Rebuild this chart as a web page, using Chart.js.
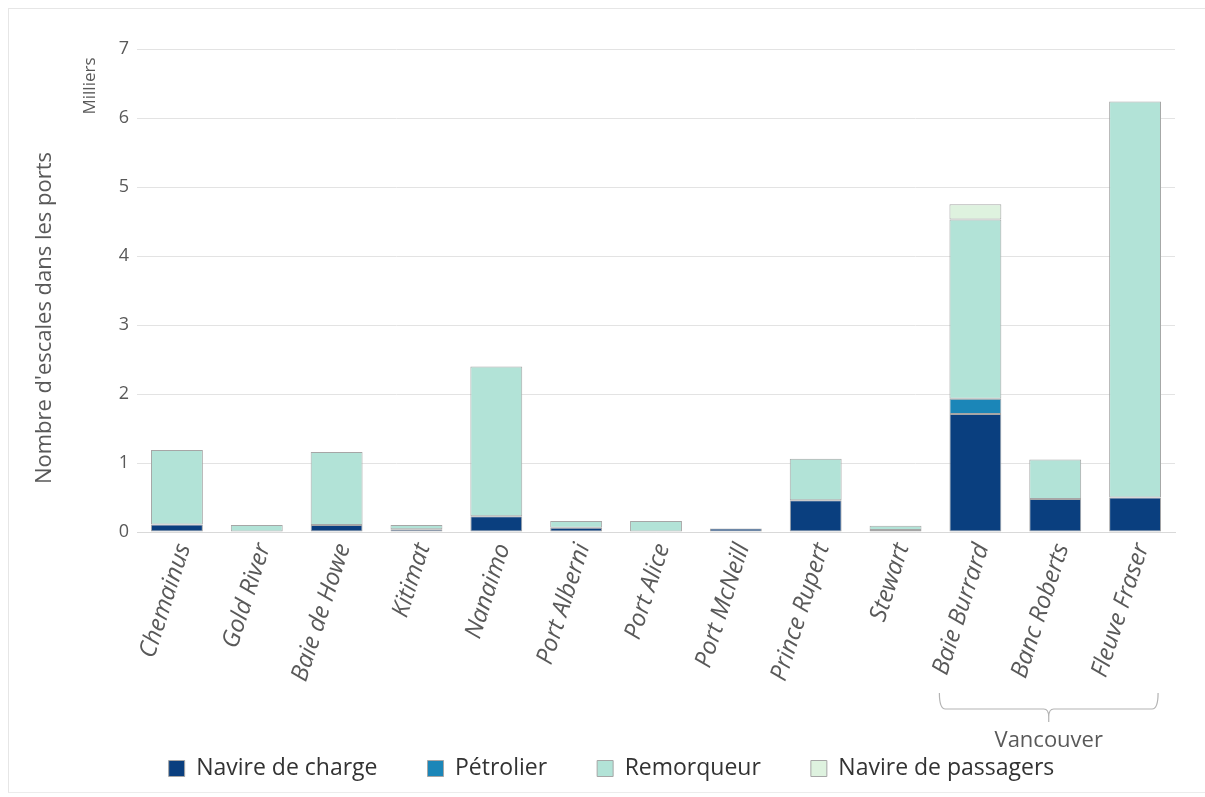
<!DOCTYPE html>
<html lang="fr">
<head>
<meta charset="utf-8">
<title>Escales dans les ports</title>
<script src="https://cdn.jsdelivr.net/npm/chart.js@4/dist/chart.umd.min.js"></script>
<style>
	html, body { margin: 0; padding: 0; background: #fff; }
	#wrap {
		position: relative;
		width: 1205px;
		height: 797px;
		box-sizing: border-box;
	}
	#frame {
		position: absolute;
		left: 8px; top: 8px; right: 0; bottom: 4px;
		border-left: 1px solid #e6e6e6;
		border-top: 1px solid #e6e6e6;
		border-bottom: 1px solid #ececec;
		pointer-events: none;
	}
	canvas { display: block; }
</style>
</head>
<body>
<div id="wrap">
	<canvas id="chart" width="1205" height="797"></canvas>
	<div id="frame"></div>
</div>
<script>
	'use strict';

	// Ports, en milliers d'escales
	var ports = ['Chemainus', 'Gold River', 'Baie de Howe', 'Kitimat', 'Nanaimo', 'Port Alberni',
		'Port Alice', 'Port McNeill', 'Prince Rupert', 'Stewart', 'Baie Burrard', 'Banc Roberts', 'Fleuve Fraser'];

	var navireCharge = [0.11, 0, 0.10, 0.04, 0.23, 0.06, 0, 0.05, 0.46, 0.03, 1.71, 0.48, 0.50];
	var petrolier = [0, 0, 0, 0, 0, 0, 0, 0, 0, 0, 0.22, 0, 0];
	var remorqueur = [1.08, 0.10, 1.06, 0.06, 2.17, 0.10, 0.16, 0, 0.60, 0.06, 2.60, 0.57, 5.74];
	var navirePassagers = [0, 0, 0, 0, 0, 0, 0, 0, 0, 0, 0.22, 0, 0];

	var yTicks = [0, 1, 2, 3, 4, 5, 6, 7];

	// Sous-groupe de ports regroupés sous une accolade
	var groupLabel = 'Vancouver';
	var groupFirst = 10;
	var groupLast = 12;

	var fontFamily = '"Open Sans", Lato, sans-serif';
	var textGrey = '#595959';
	var edgeGrey = '#a6a6a6';

	function makeSet(label, values, color) {
		return {
			label: label,
			data: values,
			backgroundColor: color,
			borderColor: edgeGrey,
			borderWidth: 1,
			borderSkipped: false,
			barPercentage: 0.65,
			categoryPercentage: 1
		};
	}

	// Titres de l'axe vertical, dessinés à la main pour les placer librement
	var axisTitles = {
		id: 'axisTitles',
		afterDraw: function (chart) {
			var ctx = chart.ctx;

			ctx.save();
			ctx.fillStyle = textGrey;
			ctx.textAlign = 'center';
			ctx.textBaseline = 'middle';
			ctx.translate(45, 318);
			ctx.rotate(-Math.PI / 2);
			ctx.font = '22px ' + fontFamily;
			ctx.fillText('Nombre d\'escales dans les ports', 0, 0);
			ctx.restore();

			ctx.save();
			ctx.fillStyle = textGrey;
			ctx.textAlign = 'center';
			ctx.textBaseline = 'middle';
			ctx.translate(90, 86);
			ctx.rotate(-Math.PI / 2);
			ctx.font = '17px ' + fontFamily;
			ctx.fillText('Milliers', 0, 0);
			ctx.restore();
		}
	};

	// Accolade sous les ports du groupe, avec son nom
	var groupBrace = {
		id: 'groupBrace',
		afterDraw: function (chart) {
			var ctx = chart.ctx,
				x = chart.scales.x,
				left = x.getPixelForValue(groupFirst) - 36,
				right = x.getPixelForValue(groupLast) + 23,
				mid = (left + right) / 2,
				y = 709;

			ctx.save();
			ctx.strokeStyle = '#b3b3b3';
			ctx.lineWidth = 1.2;
			ctx.beginPath();
			ctx.moveTo(left, 693);
			ctx.quadraticCurveTo(left, y, left + 6, y);
			ctx.lineTo(mid - 5, y);
			ctx.quadraticCurveTo(mid, y, mid, y + 8);
			ctx.lineTo(mid, 722);
			ctx.moveTo(mid, y + 8);
			ctx.quadraticCurveTo(mid, y, mid + 5, y);
			ctx.lineTo(right - 6, y);
			ctx.quadraticCurveTo(right, y, right, 693);
			ctx.stroke();

			ctx.fillStyle = textGrey;
			ctx.font = '22px ' + fontFamily;
			ctx.textAlign = 'center';
			ctx.textBaseline = 'middle';
			ctx.fillText(groupLabel, mid, 741);
			ctx.restore();
		}
	};

	new Chart(document.getElementById('chart'), {
		type: 'bar',
		data: {
			labels: ports,
			datasets: [
				makeSet('Navire de charge', navireCharge, '#0a3f7f'),
				makeSet('Pétrolier', petrolier, '#1b86b8'),
				makeSet('Remorqueur', remorqueur, '#b2e3d7'),
				makeSet('Navire de passagers', navirePassagers, '#def2df')
			]
		},
		options: {
			responsive: false,
			animation: false,
			layout: {
				padding: { left: 48, right: 30, top: 49, bottom: 7 }
			},
			plugins: {
				tooltip: { enabled: false },
				legend: {
					position: 'bottom',
					labels: {
						boxWidth: 16,
						boxHeight: 16,
						padding: 50,
						color: '#333',
						font: { family: fontFamily, size: 23 }
					}
				}
			},
			scales: {
				x: {
					stacked: true,
					grid: { display: false, drawTicks: false },
					border: { color: '#d9d9d9' },
					ticks: {
						maxRotation: 72,
						minRotation: 72,
						padding: 8,
						labelOffset: 7,
						color: textGrey,
						font: { family: fontFamily, size: 24, style: 'italic' }
					},
					afterFit: function (scale) {
						scale.height = 175;
					}
				},
				y: {
					stacked: true,
					min: 0,
					max: 7,
					grid: { color: '#e3e3e3', drawTicks: false },
					border: { display: false },
					afterBuildTicks: function (scale) {
						scale.ticks = yTicks.map(function (v) { return { value: v }; });
					},
					ticks: {
						padding: 8,
						color: textGrey,
						font: { family: fontFamily, size: 18 }
					},
					afterFit: function (scale) {
						scale.width = 89;
					}
				}
			}
		},
		plugins: [axisTitles, groupBrace]
	});
</script>
</body>
</html>
